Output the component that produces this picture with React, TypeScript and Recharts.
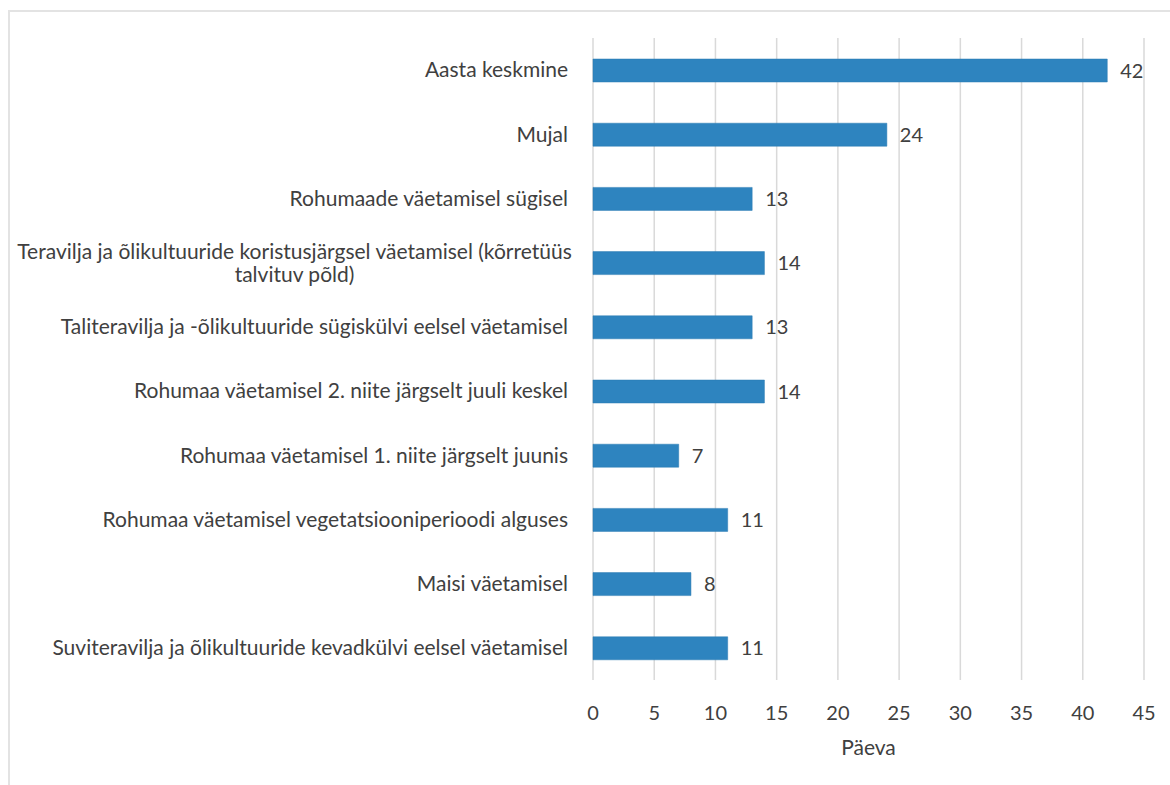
import React from 'react';
import { BarChart, Bar, XAxis, YAxis, CartesianGrid, LabelList } from 'recharts';

const categories: string[] = [
  'Aasta keskmine',
  'Mujal ',
  'Rohumaade väetamisel sügisel',
  'Teravilja ja õlikultuuride koristusjärgsel väetamisel (kõrretüüs\ntalvituv põld)',
  'Taliteravilja ja -õlikultuuride sügiskülvi eelsel väetamisel',
  'Rohumaa väetamisel 2. niite järgselt juuli keskel',
  'Rohumaa väetamisel 1. niite järgselt juunis',
  'Rohumaa väetamisel vegetatsiooniperioodi alguses',
  'Maisi väetamisel',
  'Suviteravilja ja õlikultuuride kevadkülvi eelsel väetamisel',
];
const values: number[] = [42, 24, 13, 14, 13, 14, 7, 11, 8, 11];
const xTicks: number[] = [0, 5, 10, 15, 20, 25, 30, 35, 40, 45];
const axisTitle = 'Päeva';

const data = categories.map((name, i) => ({ name, value: values[i] }));

const FONT = 'Lato, "Open Sans", sans-serif';
const TEXT = '#404040';
const FS = 20;
const CAT_FS = 21;

let ctx: CanvasRenderingContext2D | null = null;
function measure(s: string): number {
  if (!ctx) {
    const c = document.createElement('canvas');
    ctx = c.getContext('2d');
  }
  if (!ctx) return s.length * 9;
  ctx.font = `${CAT_FS}px ${FONT}`;
  return ctx.measureText(s).width;
}

const CatTick = (props: any) => {
  const { x, y, payload } = props;
  const lines: string[] = String(payload.value).split('\n');
  const right = x - 23;
  if (lines.length === 1) {
    return (
      <text x={right} y={y} dy="0.35em" textAnchor="end" fill={TEXT} fontSize={CAT_FS} fontFamily={FONT}>
        {lines[0]}
      </text>
    );
  }
  const maxW = Math.max(...lines.map(measure));
  const cx = right + 4 - maxW / 2;
  const lh = 23;
  const startY = y - ((lines.length - 1) * lh) / 2;
  return (
    <text textAnchor="middle" fill={TEXT} fontSize={CAT_FS} fontFamily={FONT}>
      {lines.map((l, i) => (
        <tspan key={i} x={cx} y={startY + i * lh} dy="0.35em">
          {l}
        </tspan>
      ))}
    </text>
  );
};

export default function App() {
  return (
    <div style={{ position: 'absolute', left: 0, top: 0, width: 1170, height: 785, background: '#fff' }}>
      <div
        style={{
          position: 'absolute',
          left: 8,
          top: 10,
          width: 1170,
          height: 800,
          borderTop: '2px solid #e3e3e3',
          borderLeft: '2px solid #e3e3e3',
          boxSizing: 'border-box',
        }}
      />
      <div style={{ position: 'absolute', left: 0, top: 0 }}>
        <BarChart
          width={1170}
          height={785}
          data={data}
          layout="vertical"
          margin={{ top: 38, right: 26, bottom: 30, left: 0 }}
          barSize={23}
        >
          <CartesianGrid horizontal={false} vertical={true} stroke="#d9d9d9" strokeWidth={1.5} />
          <XAxis
            type="number"
            domain={[0, 45]}
            ticks={xTicks}
            axisLine={false}
            tickLine={false}
            tickSize={0}
            tickMargin={26}
            height={75}
            tick={{ fill: TEXT, fontSize: FS, fontFamily: FONT }}
            label={{ value: axisTitle, position: 'insideBottom', offset: 0, fill: TEXT, fontSize: CAT_FS, fontFamily: FONT }}
          />
          <YAxis
            type="category"
            dataKey="name"
            width={593}
            axisLine={false}
            tickLine={false}
            tickSize={0}
            interval={0}
            tick={<CatTick />}
          />
          <Bar dataKey="value" fill="#2E84BF" stroke="#2a7ab3" strokeWidth={0.5} isAnimationActive={false}>
            <LabelList dataKey="value" position="right" offset={13} fill={TEXT} fontSize={FS} fontFamily={FONT} />
          </Bar>
        </BarChart>
      </div>
    </div>
  );
}
